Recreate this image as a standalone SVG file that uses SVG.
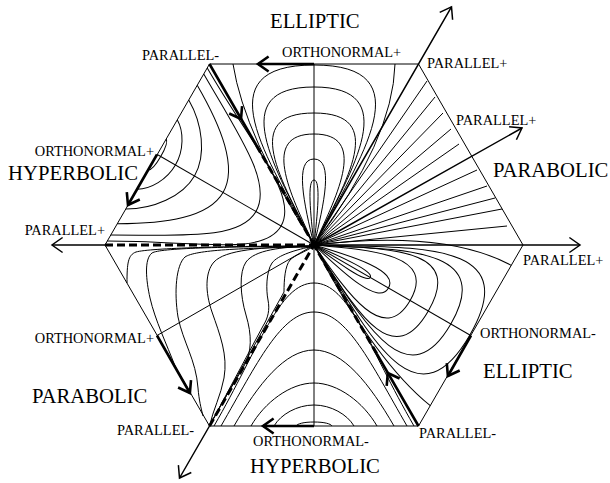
<svg xmlns="http://www.w3.org/2000/svg" width="610" height="483" viewBox="0 0 610 483">
<style>
.thin{fill:none;stroke:#000;stroke-width:1}
.ax{fill:none;stroke:#000;stroke-width:1.5}
.thick{fill:none;stroke:#000;stroke-width:2.6}
.dash{fill:none;stroke:#000;stroke-width:3;stroke-dasharray:8 4}
.lbl{font-family:"Liberation Serif","Times New Roman",serif;font-size:14.4px;fill:#000}
.big{font-family:"Liberation Serif","Times New Roman",serif;font-size:20.7px;fill:#000}
</style>
<defs>
<g id="ell" fill="none" stroke="#000" stroke-width="1">
<path d="M0,0V-181"/>
<path d="M0,0C47,-88 111,-180 0,-180C-111,-180 -47,-88 0,0"/>
<path d="M0,0C40,-78 89,-158 0,-158C-89,-158 -40,-78 0,0"/>
<path d="M0,0C33,-65 74,-132 0,-132C-74,-132 -33,-65 0,0"/>
<path d="M0,0C25,-53 53,-111 0,-111C-53,-111 -25,-53 0,0"/>
<path d="M0,0C10,-41 20,-86 0,-86C-20,-86 -10,-41 0,0"/>
<path d="M0,0C3.5,-31 7,-65 0,-65C-7,-65 -3.5,-31 0,0"/>
<path d="M81,-181Q79,-105 0,0"/>
<path d="M-81,-181Q-70,-110 0,0"/>
</g>
<g id="hyp" fill="none" stroke="#000" stroke-width="1">
<path d="M0,0V181"/>
<path d="M-100,181C-54.6,102.4 -35,38 0,38C35,38 54.6,102.4 100,181"/>
<path d="M-93,181C-56.8,118.3 -32.9,67 0,67C32.9,67 56.8,118.3 93,181"/>
<path d="M-80,181C-55.9,139.2 -29,105 0,105C29,105 55.9,139.2 80,181"/>
<path d="M-63,181C-49.4,157.4 -23.9,138 0,138C23.9,138 49.4,157.4 63,181"/>
<path d="M-40,181C-33.3,169.5 -17,160 0,160C17,160 33.3,169.5 40,181"/>
<path d="M-18,181C-16.7,178.8 -10.4,177 0,177C10.4,177 16.7,178.8 18,181"/>
</g>
</defs>
<rect width="610" height="483" fill="#fff"/>
<g id="hexagon">
<polygon class="thin" points="209.5,64 418.5,64 523,245 418.5,426 209.5,426 105,245"/>
<path class="thin" d="M314,245L209.5,64M314,245L418.5,426M314,245L157,335.5"/>
</g>
<g id="elliptic-top"><use href="#ell" transform="translate(314,245)"/></g>
<g id="elliptic-lower-right"><use href="#ell" transform="translate(314,245) rotate(-30) scale(1,-1) rotate(30)"/></g>
<g id="hyperbolic-bottom"><use href="#hyp" transform="translate(314,245)"/></g>
<g id="hyperbolic-upper-left"><use href="#hyp" transform="translate(314,245) rotate(-30) scale(1,-1) rotate(30)"/></g>
<g id="parabolic-upper-right" class="thin">
<path d="M314,245L427,81M314,245L435,97M314,245L443,113M314,245L451,129M314,245L459,144M314,245L477,170M314,245L487,186M314,245L495,198M314,245L502,209M314,245L507,226"/>
</g>
<g id="parabolic-lower-left" class="thin">
<path d="M314,246C230,246 150,248 136,252C128,255 127,263 127,283"/>
<path d="M314,246C220,247 160,248 152,253C144,259 146,280 150,298C155,320 167,345 175,366"/>
<path d="M314,247C240,248 195,250 185,257C176,265 174,292 178,317C183,342 196,360 198,388C199,400 201,408 203,416"/>
<path d="M314,246C260,247 225,250 214,262C205,272 205,292 212,312C220,335 228,355 224,378C221,395 213,410 209.5,426"/>
<path d="M314,246C280,247 255,250 246,262C239,272 240,295 246,315C252,335 252,352 244,366C235,382 220,405 209.5,426"/>
<path d="M314,246C295,250 278,255 272,263C266,272 266,290 268,300C270,310 268,318 263,326L209.5,426"/>
<path d="M314,246C305,252 295,255 290,260C285,266 284,280 284,292L209.5,426"/>
</g>
<g id="connectors">
<path class="ax" d="M314,245L451.5,6.85M314,245H580M314,245L522,128M105,245H52M209.5,426L179.5,478"/>
<polyline class="ax" points="452.6,19.8 451.5,6.85 439.7,12.35"/>
<polyline class="ax" points="569.4,237.5 580,245 569.4,252.5"/>
<polyline class="ax" points="62.6,237.5 52,245 62.6,252.5"/>
<polyline class="ax" points="191.3,472.5 179.5,478 178.4,465.1"/>
<polyline class="ax" points="516.4,139.7 522,128 509.1,126.7"/>
<path class="thick" d="M314,64H258M157,154.5L128,205M157,335.5L189.9,393M471,335.5L447.9,376M314,426H263M209.5,64L256.5,145.5M418.5,426L376.7,353.6"/>
<path class="dash" d="M256.5,145.5L314,245M376.7,353.6L314,245M105,245H314M209.5,426L314,245"/>
<polyline class="thick" points="268.6,56.5 258,64 268.6,71.5"/>
<polyline class="thick" points="139.8,199.5 128,205 126.8,192.1"/>
<polyline class="thick" points="191,380.1 189.9,393 178.1,387.5"/>
<polyline class="thick" points="459.7,370.5 447.9,376 446.8,363.1"/>
<polyline class="thick" points="273.6,418.5 263,426 273.6,433.5"/>
<polyline class="thick" points="242.1,106.1 241,119 229.2,113.5"/>
<polyline class="thick" points="399.6,378.5 387.8,373 386.7,385.9"/>
</g>
<g id="labels">
<text class="big" x="270" y="28">ELLIPTIC</text>
<text class="lbl" x="282" y="57">ORTHONORMAL+</text>
<text class="lbl" x="142" y="60">PARALLEL-</text>
<text class="lbl" x="427" y="68">PARALLEL+</text>
<text class="lbl" x="456" y="125">PARALLEL+</text>
<text class="big" x="493" y="177">PARABOLIC</text>
<text class="lbl" x="154" y="156" text-anchor="end">ORTHONORMAL+</text>
<text class="big" x="138" y="180" text-anchor="end">HYPERBOLIC</text>
<text class="lbl" x="105" y="235" text-anchor="end">PARALLEL+</text>
<text class="lbl" x="523" y="265">PARALLEL+</text>
<text class="lbl" x="480" y="338">ORTHONORMAL-</text>
<text class="lbl" x="154" y="343" text-anchor="end">ORTHONORMAL+</text>
<text class="big" x="483" y="378">ELLIPTIC</text>
<text class="big" x="32" y="403">PARABOLIC</text>
<text class="lbl" x="117" y="435">PARALLEL-</text>
<text class="lbl" x="419" y="438">PARALLEL-</text>
<text class="lbl" x="253" y="446">ORTHONORMAL-</text>
<text class="big" x="250" y="473">HYPERBOLIC</text>
</g>
</svg>
